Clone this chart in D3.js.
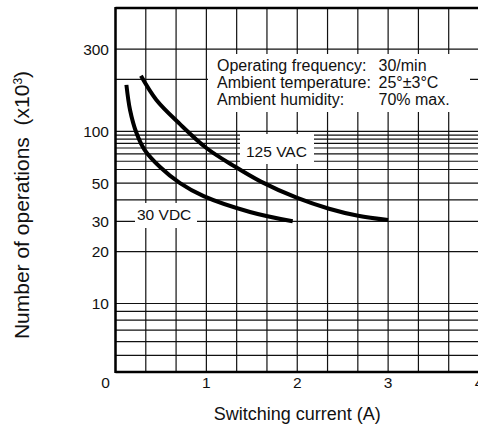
<!DOCTYPE html>
<html lang="en">
<head>
    <meta charset="UTF-8">
    <title>life-curve</title>
    <script src="https://cdn.jsdelivr.net/npm/d3@7/dist/d3.min.js"></script>
    <style>
        body { margin: 0; background: #fff; }
        text { font-family: "Liberation Sans", Arial, sans-serif; fill: #111; }
    </style>
</head>
<body>
    <svg class="chart"></svg>
</body>
<script>
    // data
    var vdcCurrent = [0.12, 0.16, 0.23, 0.32, 0.49, 0.71, 0.97, 1.48, 1.95];
    var vdcOps = [186, 133, 98, 78, 62, 50, 42, 34, 30];
    var vacCurrent = [0.28, 0.45, 0.71, 1.0, 1.3, 1.6, 2.0, 2.35, 2.67, 3.0];
    var vacOps = [210, 152, 110, 80, 63, 51, 41, 35.5, 32.3, 30.5];

    // grid and ticks
    var xGrid = [0, 1/3, 2/3, 1, 4/3, 5/3, 2, 7/3, 8/3, 3, 10/3, 11/3, 4];
    var xTicks = [0, 1, 2, 3, 4];
    var xTickLabels = ['0', '1', '2', '3', '4'];
    var yGrid = [300, 200, 100, 95, 90, 85, 80, 74, 67, 60, 50, 40, 30, 20, 10, 9, 8, 7, 6, 5];
    var yTicks = [300, 100, 50, 30, 20, 10];
    var yTickLabels = ['300', '100', '50', '30', '20', '10'];
    var noteLabels = ['Operating frequency:', 'Ambient temperature:', 'Ambient humidity:'];
    var noteValues = ['30/min', '25°±3°C', '70% max.'];

    var width = 478, height = 428;
    var plotLeft = 115.5, plotRight = 479, plotTop = 8, plotBottom = 372;

    var svg = d3.select('.chart')
        .attr('width', width)
        .attr('height', height);

    var x = d3.scaleLinear().domain([0, 4]).range([plotLeft, plotRight]);
    var y = d3.scaleLog().domain([4, 520]).range([plotBottom, plotTop]);

    // grid lines
    svg.selectAll('.vgrid')
        .data(xGrid)
        .enter()
        .append('line')
        .attr('x1', function (d) { return x(d); })
        .attr('x2', function (d) { return x(d); })
        .attr('y1', plotTop)
        .attr('y2', plotBottom)
        .attr('stroke', '#111')
        .attr('stroke-width', 1.2);

    svg.selectAll('.hgrid')
        .data(yGrid)
        .enter()
        .append('line')
        .attr('x1', plotLeft)
        .attr('x2', plotRight)
        .attr('y1', function (d) { return y(d); })
        .attr('y2', function (d) { return y(d); })
        .attr('stroke', '#111')
        .attr('stroke-width', 1.2);

    // white boxes behind the labels
    svg.append('rect').attr('x', 208).attr('y', 54).attr('width', 262).attr('height', 58).attr('fill', '#fff');
    svg.append('rect').attr('x', 240).attr('y', 134).attr('width', 74).attr('height', 30).attr('fill', '#fff');
    svg.append('rect').attr('x', 135).attr('y', 203).attr('width', 62).attr('height', 25).attr('fill', '#fff');

    // frame
    svg.append('line').attr('x1', plotLeft).attr('x2', plotLeft).attr('y1', plotTop - 1).attr('y2', plotBottom + 1)
        .attr('stroke', '#000').attr('stroke-width', 2.5);
    svg.append('line').attr('x1', plotLeft).attr('x2', plotRight).attr('y1', plotBottom).attr('y2', plotBottom)
        .attr('stroke', '#000').attr('stroke-width', 2.5);
    svg.append('line').attr('x1', plotLeft).attr('x2', plotRight).attr('y1', plotTop).attr('y2', plotTop)
        .attr('stroke', '#000').attr('stroke-width', 2.5);

    // curves
    var line = d3.line()
        .x(function (d) { return x(d[0]); })
        .y(function (d) { return y(d[1]); })
        .curve(d3.curveCatmullRom);

    var series = [d3.zip(vdcCurrent, vdcOps), d3.zip(vacCurrent, vacOps)];
    svg.selectAll('.curve')
        .data(series)
        .enter()
        .append('path')
        .attr('d', line)
        .attr('fill', 'none')
        .attr('stroke', '#000')
        .attr('stroke-width', 4);

    // tick labels
    svg.selectAll('.ylab')
        .data(yTicks)
        .enter()
        .append('text')
        .attr('x', 109)
        .attr('y', function (d) { return y(d); })
        .attr('dy', '0.35em')
        .attr('text-anchor', 'end')
        .style('font-size', '15.5px')
        .text(function (d, i) { return yTickLabels[i]; });

    svg.selectAll('.xlab')
        .data(xTicks)
        .enter()
        .append('text')
        .attr('x', function (d) { return d === 0 ? x(d) - 10 : x(d); })
        .attr('y', 387.5)
        .attr('text-anchor', 'middle')
        .style('font-size', '15.5px')
        .text(function (d, i) { return xTickLabels[i]; });

    // conditions note
    var note = svg.append('g').style('font-size', '16px');
    note.selectAll('.nl')
        .data(noteLabels)
        .enter()
        .append('text')
        .attr('x', 217)
        .attr('y', function (d, i) { return 71 + i * 17.2; })
        .text(function (d) { return d; });
    note.selectAll('.nv')
        .data(noteValues)
        .enter()
        .append('text')
        .attr('x', 378.5)
        .attr('y', function (d, i) { return 71 + i * 17.2; })
        .text(function (d) { return d; });

    // curve labels
    svg.append('text').attr('x', 246).attr('y', 157).style('font-size', '15.5px').text('125 VAC');
    svg.append('text').attr('x', 137).attr('y', 220).style('font-size', '15.5px').text('30 VDC');

    // axis titles
    svg.append('text')
        .attr('x', x(2))
        .attr('y', 420)
        .attr('text-anchor', 'middle')
        .style('font-size', '18px')
        .text('Switching current (A)');

    var ytitle = svg.append('text')
        .attr('transform', 'translate(29,205) rotate(-90)')
        .attr('text-anchor', 'middle')
        .style('font-size', '21px')
        .attr('xml:space', 'preserve');
    ytitle.append('tspan').text('Number of operations  (x10');
    ytitle.append('tspan').attr('baseline-shift', 'super').style('font-size', '12px').text('3');
    ytitle.append('tspan').text(')');
</script>
</html>
